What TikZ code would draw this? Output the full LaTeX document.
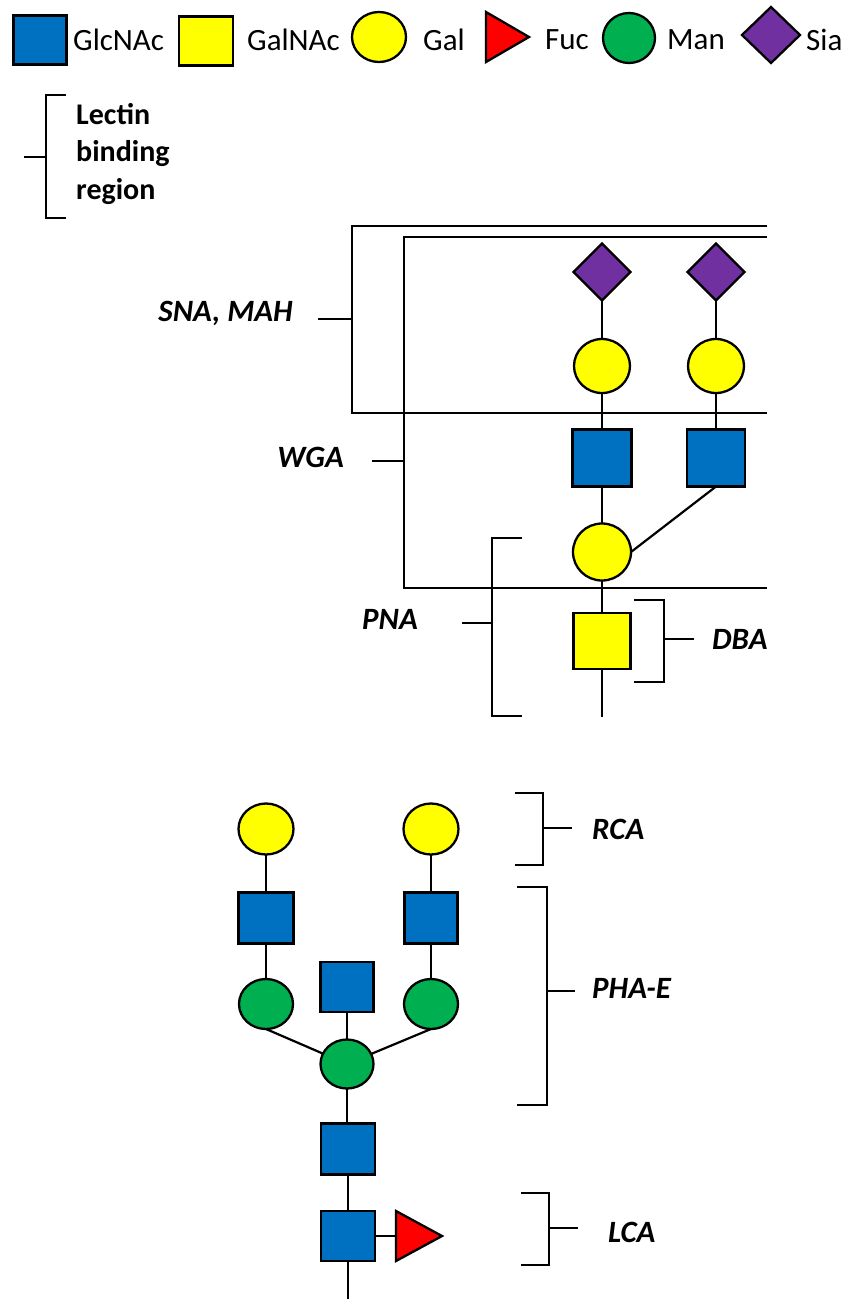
\documentclass[tikz,border=0pt]{standalone}
\usepackage{fontspec}
\setmainfont{Carlito}
\usetikzlibrary{shapes.geometric}
\definecolor{glcblue}{HTML}{0070C0}
\definecolor{galyel}{HTML}{FFFF00}
\definecolor{fucred}{HTML}{FF0000}
\definecolor{mangreen}{HTML}{00B050}
\definecolor{siapurple}{HTML}{7030A0}
\tikzset{
  sugar/.style={draw=black,line width=2.3pt,inner sep=0pt,outer sep=0pt},
  glc/.style={sugar,rectangle,fill=glcblue,minimum width=56pt,minimum height=54pt},
  galnac/.style={sugar,rectangle,fill=galyel,minimum width=56pt,minimum height=54pt},
  gal/.style={sugar,ellipse,fill=galyel,minimum width=56pt,minimum height=54pt},
  man/.style={sugar,ellipse,fill=mangreen,minimum width=54pt,minimum height=50pt},
  sia/.style={sugar,diamond,fill=siapurple,minimum width=57pt,minimum height=57pt},
  fucshape/.pic={\draw[draw=black,line width=2.3pt,line join=miter,fill=fucred] (0,-25) -- (#1,0) -- (0,25) -- cycle;},
  fucshape/.default=46,
  link/.style={line width=2.2pt},
  brk/.style={line width=2.2pt},
  legtxt/.style={anchor=west,inner sep=0pt,font=\fontsize{31}{36}\selectfont},
  lectin/.style={inner sep=0pt,font=\fontsize{31}{36}\selectfont\bfseries\itshape},
}
\begin{document}
\begin{tikzpicture}[x=1pt,y=-1pt]
\useasboundingbox (0,0) rectangle (851,1299);
% legend
\node[glc,minimum width=53pt,minimum height=49pt] (lg1) at (40,40) {};
\node[legtxt] (lt1) at (73,40) {GlcNAc};
\node[galnac,minimum width=54pt,minimum height=49pt] (lg2) at (206,41) {};
\node[legtxt] (lt2) at (247,40) {GalNAc};
\node[gal,minimum width=54pt,minimum height=50pt] (lg3) at (379,37) {};
\node[legtxt] (lt3) at (423,40) {Gal};
\coordinate (lg4) at (486,37);
\pic at (lg4) {fucshape=43};
\node[legtxt] (lt4) at (545,40) {Fuc};
\node[man,minimum width=52pt,minimum height=50pt] (lg5) at (629,38) {};
\node[legtxt] (lt5) at (667,40) {Man};
\node[sia,minimum width=58pt,minimum height=56pt] (lg6) at (771,35) {};
\node[legtxt] (lt6) at (806,40) {Sia};
% lectin binding region key
\draw[brk] (66,95) -- (46,95) -- (46,218) -- (66,218);
\draw[brk] (24,157) -- (46,157);
\node[legtxt,font=\fontsize{30}{37.5}\selectfont\bfseries,align=left,anchor=north west] (lbr) at (76,103) {Lectin\\binding\\region};
% upper glycan
\node[sia] (s1) at (602,272) {};
\node[sia] (s2) at (716,272) {};
\node[gal] (g1) at (602,366) {};
\node[gal] (g2) at (716,366) {};
\node[glc,minimum width=59pt,minimum height=57pt] (n1) at (602,458) {};
\node[glc,minimum width=58pt,minimum height=57pt] (n2) at (716,458) {};
\node[gal,minimum width=58pt,minimum height=57pt] (g3) at (602,552) {};
\node[galnac,minimum width=57pt,minimum height=56pt] (a1) at (602,641) {};
\coordinate (e1) at (602,717);
\draw[link] (s1) -- (g1);
\draw[link] (s2) -- (g2);
\draw[link] (g1) -- (n1);
\draw[link] (g2) -- (n2);
\draw[link] (n1) -- (g3);
\draw[link] (n2.south) -- (g3.east);
\draw[link] (g3) -- (a1);
\draw[link] (a1) -- (e1);
% upper brackets
\draw[brk] (767,226) -- (352,226) -- (352,413) -- (767,413);
\draw[brk] (318,319) -- (352,319);
\node[lectin,anchor=east] (snamah) at (293,313) {SNA, MAH};
\draw[brk] (767,237) -- (404,237) -- (404,588) -- (767,588);
\draw[brk] (372,461) -- (404,461);
\node[lectin,anchor=east] (wga) at (344,457) {WGA};
\draw[brk] (522,538) -- (492,538) -- (492,716) -- (522,716);
\draw[brk] (462,623) -- (492,623);
\node[lectin,anchor=east] (pna) at (418,619) {PNA};
\draw[brk] (634,600) -- (664,600) -- (664,682) -- (634,682);
\draw[brk] (664,639) -- (694,639);
\node[lectin,anchor=west] (dba) at (712,639) {DBA};
% lower glycan
\node[gal,minimum width=55pt,minimum height=51pt] (lg1b) at (266,829) {};
\node[gal,minimum width=55pt,minimum height=51pt] (lg2b) at (431,829) {};
\node[glc,minimum width=55pt,minimum height=51pt] (ln1) at (266,918) {};
\node[glc,minimum width=53pt,minimum height=51pt] (ln2) at (431,918) {};
\node[man] (lm1) at (266,1004) {};
\node[man] (lm2) at (431,1004) {};
\node[glc,minimum width=53pt,minimum height=50pt] (ln3) at (347,987) {};
\node[man,minimum width=53pt,minimum height=49pt] (lm3) at (347,1064) {};
\node[glc,minimum width=54pt,minimum height=51pt] (ln4) at (348,1149) {};
\node[glc,minimum width=54pt,minimum height=50pt] (ln5) at (348,1236) {};
\coordinate (lf) at (396,1236);
\coordinate (e2) at (348,1299);
\draw[link] (lg1b) -- (ln1);
\draw[link] (lg2b) -- (ln2);
\draw[link] (ln1) -- (lm1);
\draw[link] (ln2) -- (lm2);
\draw[link] (lm1.south) -- (lm3);
\draw[link] (lm2.south) -- (lm3);
\draw[link] (ln3) -- (lm3);
\draw[link] (lm3.south) -- (lm3.south |- ln4.north);
\draw[link] (ln4) -- (ln5);
\draw[link] (ln5) -- (lf);
\draw[link] (ln5) -- (e2);
\pic at (lf) {fucshape=46};
% lower brackets
\draw[brk] (515,793) -- (543,793) -- (543,865) -- (515,865);
\draw[brk] (543,828) -- (572,828);
\node[lectin,anchor=west] (rca) at (592,829) {RCA};
\draw[brk] (517,887) -- (547,887) -- (547,1105) -- (517,1105);
\draw[brk] (547,991) -- (575,991);
\node[lectin,anchor=west] (phae) at (592,988) {PHA-E};
\draw[brk] (521,1193) -- (549,1193) -- (549,1265) -- (521,1265);
\draw[brk] (549,1228) -- (578,1228);
\node[lectin,anchor=west] (lca) at (608,1232) {LCA};
\end{tikzpicture}
\end{document}
